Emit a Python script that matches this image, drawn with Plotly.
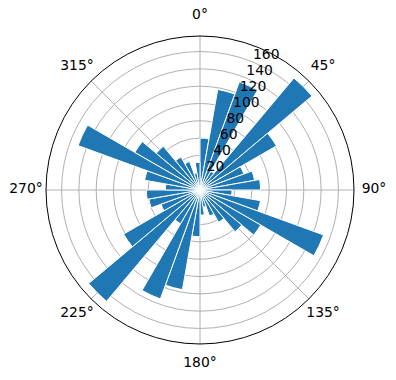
import plotly.graph_objects as go

directions = [5, 15, 25, 35, 45, 55, 65, 75, 85, 95, 105, 115, 125, 135, 145, 155, 165, 175,
              185, 195, 205, 215, 225, 235, 245, 255, 265, 275, 285, 295, 305, 315, 325, 335, 345, 355]
counts = [60, 118, 133, 25, 169, 102, 54, 64, 70, 37, 71, 152, 81, 63, 43, 32, 20, 29,
          54, 117, 134, 45, 168, 102, 48, 60, 62, 40, 65, 150, 87, 66, 44, 35, 20, 32]
bar_width = 10
angle_ticks = [0, 45, 90, 135, 180, 225, 270, 315]
angle_labels = ["0°", "45°", "90°", "135°", "180°", "225°", "270°", "315°"]
radial_ticks = [20, 40, 60, 80, 100, 120, 140, 160]
radial_labels = ["20", "40", "60", "80", "100", "120", "140", "160"]
r_max = 178
rlabel_angle = 22.5

W, H = 396, 380
CX, CY, R = 200, 190, 154        # centre and radius of the polar area (px)
R_OUT = 190                      # radius of the overlay used for angle labels
LABEL_R = 174                    # angle labels centred ~20 px outside the rim


def dom(cx, cy, r):
    return dict(x=[(cx - r) / W, (cx + r) / W], y=[(H - cy - r) / H, (H - cy + r) / H])


fig = go.Figure()
fig.add_trace(go.Barpolar(
    r=counts, theta=directions, width=[bar_width] * len(directions),
    marker=dict(color="#1f77b4", line=dict(color="white", width=1)),
    hoverinfo="skip", subplot="polar",
))

font = dict(family="DejaVu Sans", size=13.9, color="black")

# radial tick labels (bottom-left anchored at the tick, like matplotlib)
fig.add_trace(go.Scatterpolar(
    r=radial_ticks, theta=[rlabel_angle] * len(radial_ticks),
    mode="text", text=radial_labels, textposition="top right",
    textfont=font, cliponaxis=False, hoverinfo="skip", subplot="polar",
))
# angular tick labels centred outside the rim (on a transparent overlay)
fig.add_trace(go.Scatterpolar(
    r=[LABEL_R / R_OUT] * len(angle_ticks), theta=angle_ticks,
    mode="text", text=angle_labels, textposition="middle center",
    textfont=font, cliponaxis=False, hoverinfo="skip", subplot="polar2",
))

fig.update_layout(
    width=W, height=H, autosize=False,
    margin=dict(l=0, r=0, t=0, b=0),
    paper_bgcolor="white",
    showlegend=False,
    font=font,
    polar=dict(
        bgcolor="white",
        bargap=0,
        domain=dom(CX, CY, R),
        angularaxis=dict(
            rotation=90, direction="clockwise",
            tickvals=angle_ticks, showticklabels=False,
            showgrid=True, gridcolor="#b0b0b0", gridwidth=0.8,
            showline=True, linecolor="black", linewidth=1,
            ticks="",
        ),
        radialaxis=dict(
            range=[0, r_max], tickvals=radial_ticks,
            angle=67.5, showticklabels=False,
            showline=False, ticks="",
            showgrid=True, gridcolor="#b0b0b0", gridwidth=0.8,
        ),
    ),
    polar2=dict(
        bgcolor="rgba(0,0,0,0)",
        domain=dom(CX, CY, R_OUT),
        angularaxis=dict(rotation=90, direction="clockwise", showgrid=False,
                         showline=False, showticklabels=False, ticks=""),
        radialaxis=dict(range=[0, 1], showgrid=False, showline=False,
                        showticklabels=False, ticks=""),
    ),
)

fig.write_html("out.html")
